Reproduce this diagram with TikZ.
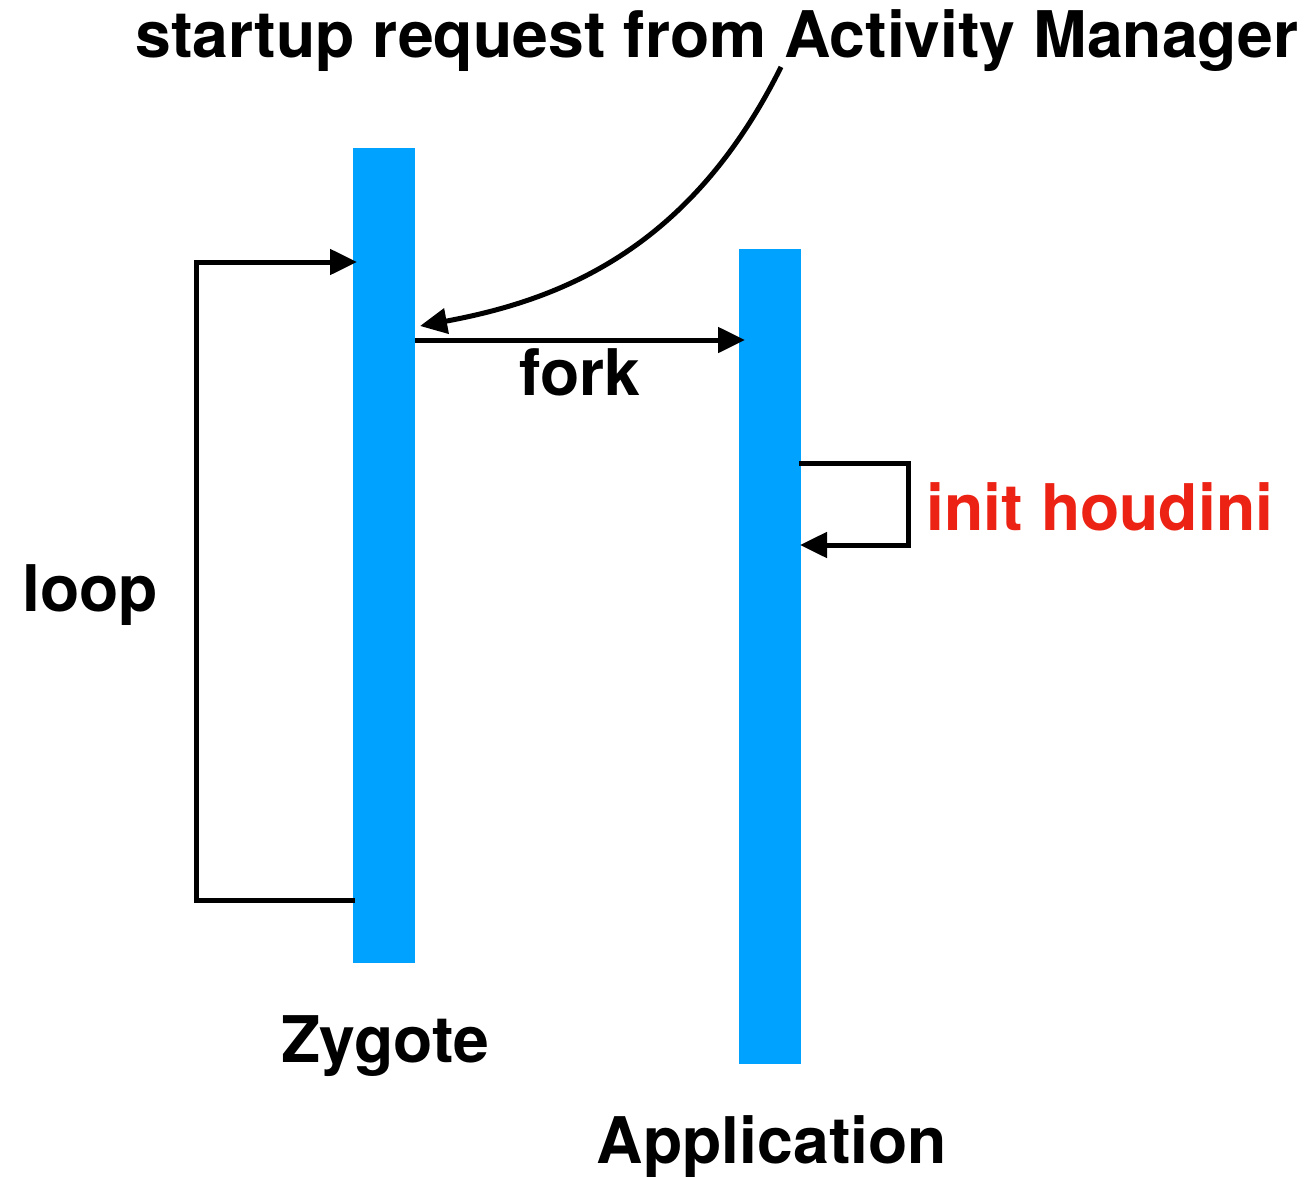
\documentclass[tikz,border=0pt]{standalone}
\usepackage{fontspec}
\setmainfont{TeX Gyre Heros}
\usetikzlibrary{arrows.meta}
\definecolor{barblue}{RGB}{0,162,255}
\definecolor{labred}{RGB}{236,34,20}
\begin{document}
\begin{tikzpicture}[x=0.02cm,y=-0.02cm,
  lbl/.style={font=\fontsize{36.6}{42}\selectfont\bfseries, inner sep=0pt, anchor=base},
  conn/.style={line width=0.1cm, -{Triangle[length=0.54cm,width=0.5cm]}},
  bar/.style={fill=barblue, draw=none}]
\useasboundingbox (0,0) rectangle (1304,1176);
% bars
\fill[bar] (353,148) rectangle (415,963);
\fill[bar] (739,249) rectangle (801,1064);
\coordinate (zl) at (355,900);
\coordinate (zt) at (357,262);
\coordinate (zf) at (415,340);
\coordinate (af) at (745,340);
\coordinate (ah1) at (799,463);
\coordinate (ah2) at (800,545);
\coordinate (cs) at (781,67);
\coordinate (ce) at (420,326);
% labels
\node[lbl] (top) at (717,58) {startup request from Activity Manager};
\node[lbl] (fork) at (580,395) {fork};
\node[lbl, text=labred] (ih) at (1100,530) {init houdini};
\node[lbl] (loop) at (90,611) {loop};
\node[lbl] (zy) at (385,1062) {Zygote};
\node[lbl] (app) at (772,1163) {Application};
% connectors
\draw[conn] (zl) -- (196,900) -- (196,262) -- (zt);
\draw[conn] (zf) -- (af);
\draw[conn] (ah1) -- (908,463) -- (908,545) -- (ah2);
\draw[conn] (cs) .. controls (690,250) and (560,300) .. (ce);
\end{tikzpicture}
\end{document}
